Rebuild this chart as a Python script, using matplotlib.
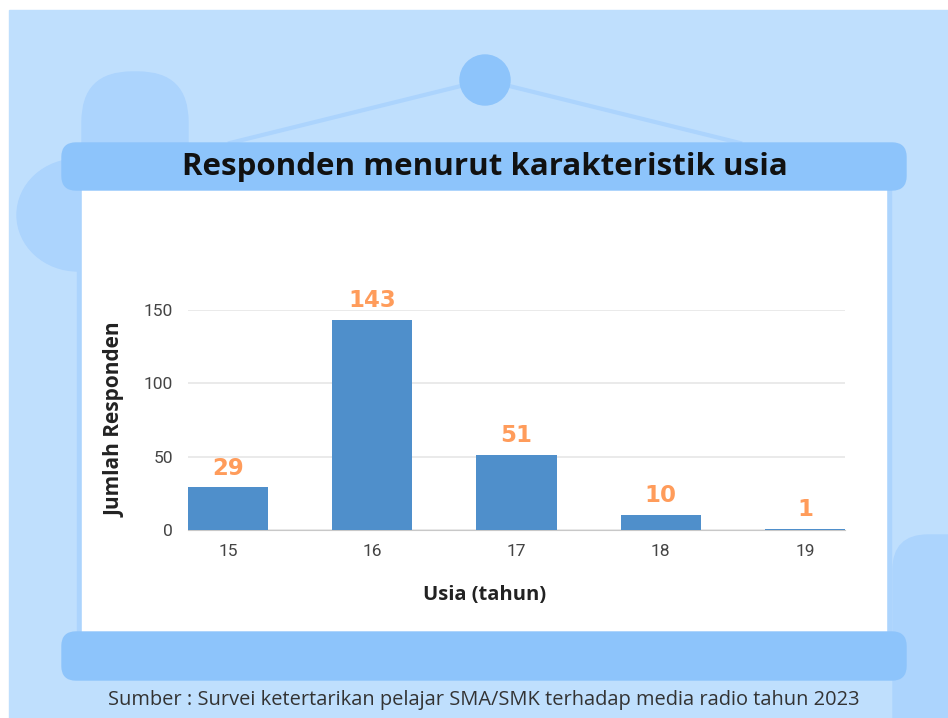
import matplotlib.pyplot as plt
from matplotlib.patches import FancyBboxPatch, Ellipse, Rectangle

ages = ['15', '16', '17', '18', '19']
counts = [29, 143, 51, 10, 1]
y_ticks = [0, 50, 100, 150]

title = 'Responden menurut karakteristik usia'
source = 'Sumber : Survei ketertarikan pelajar SMA/SMK terhadap media radio tahun 2023'

W, H = 948, 718
fig = plt.figure(figsize=(W / 100, H / 100), dpi=100)
fig.patch.set_facecolor('white')

# background layer in pixel coordinates (y down)
bg = fig.add_axes([0, 0, 1, 1])
bg.set_xlim(0, W)
bg.set_ylim(H, 0)
bg.axis('off')

bg.add_patch(Rectangle((9, 10), W - 9, H - 10, color='#bfdffd', zorder=0))
# decorative blobs
bg.add_patch(FancyBboxPatch((82, 72), 106, 260, boxstyle='round,pad=0,rounding_size=50',
                            color='#acd4fd', zorder=1))
bg.add_patch(Ellipse((78, 215), 122, 112, color='#acd4fd', zorder=1))
bg.add_patch(FancyBboxPatch((893, 535), 90, 220, boxstyle='round,pad=0,rounding_size=35',
                            color='#acd4fd', zorder=1))
# hanger
bg.plot([230, 485, 740], [143, 80, 143], color='#acd4fd', lw=3, zorder=2)
bg.add_patch(Ellipse((485, 80), 50, 50, color='#8dc4fb', zorder=3))
# banners and panel
bg.add_patch(Rectangle((77, 185), 814, 450, color='#acd4fd', zorder=3))
bg.add_patch(Rectangle((82, 185), 804, 450, color='white', zorder=3))
bg.add_patch(FancyBboxPatch((62, 143), 844, 47, boxstyle='round,pad=0,rounding_size=14',
                            color='#8dc4fb', zorder=4))
bg.add_patch(FancyBboxPatch((62, 632), 844, 48, boxstyle='round,pad=0,rounding_size=14',
                            color='#8dc4fb', zorder=4))
bg.text(485, 167, title, ha='center', va='center', fontsize=22.5, fontweight='bold',
        family='Open Sans', color='#111111', zorder=5)
bg.text(484, 700, source, ha='center', va='center', fontsize=14.4,
        family='Open Sans', color='#333333', zorder=5)

# chart
ax = fig.add_axes([188 / W, 1 - 530 / H, 657 / W, 220 / H])
ax.set_facecolor('none')
xs = range(len(ages))
bars = ax.bar(xs, counts, width=0.556, color='#4f8fcb', zorder=3)
for x, v in zip(xs, counts):
    ax.annotate(str(v), (x, v), xytext=(0, 14), textcoords='offset points',
                ha='center', va='center', fontsize=16.5, fontweight='bold',
                color='#ff9c5b', family='DejaVu Sans', annotation_clip=False)
ax.set_xlim(-0.278, 4.278)
ax.set_ylim(0, 150)
ax.set_yticks(y_ticks)
ax.set_xticks(list(xs))
ax.set_xticklabels(ages)
ax.grid(axis='y', color='#e8e8e8', lw=1.3, zorder=0)
for s in ['top', 'right', 'left']:
    ax.spines[s].set_visible(False)
ax.spines['bottom'].set_color('#c8c8c8')
ax.tick_params(axis='both', length=0, labelsize=12.5, colors='#444444')
ax.tick_params(axis='x', pad=10)
ax.tick_params(axis='y', pad=11)
for lbl in ax.get_xticklabels() + ax.get_yticklabels():
    lbl.set_family('Roboto')
ax.set_xlabel('Usia (tahun)', fontsize=14.5, fontweight='bold',
              color='#222222', family='Open Sans')
ax.xaxis.set_label_coords((485 - 188) / 657, -55 / 220)
ax.set_ylabel('Jumlah Responden', fontsize=15, fontweight='bold',
              color='#222222', family='Open Sans')
ax.yaxis.set_label_coords(-62 / 657, 0.5)

fig.savefig('out.png', dpi=100)
